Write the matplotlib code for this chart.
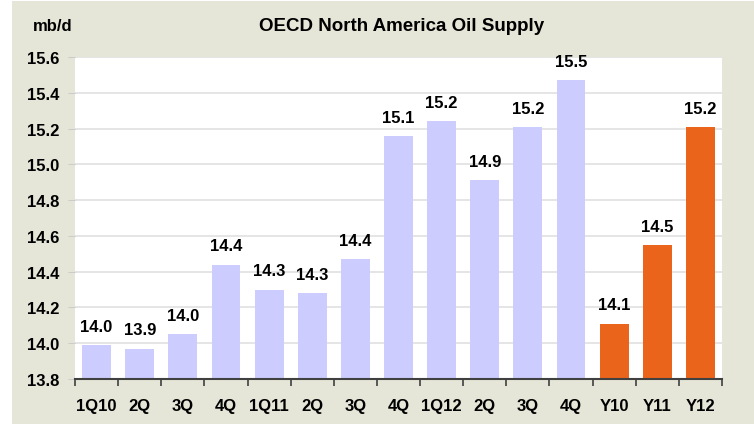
"""OECD North America oil supply bar chart."""
import matplotlib.pyplot as plt
import numpy as np
from matplotlib.patches import Rectangle

plt.rcParams["font.family"] = ["Liberation Sans", "DejaVu Sans"]

categories = ["1Q10", "2Q", "3Q", "4Q", "1Q11", "2Q", "3Q", "4Q",
              "1Q12", "2Q", "3Q", "4Q", "Y10", "Y11", "Y12"]
values = [13.99, 13.97, 14.05, 14.44, 14.30, 14.28, 14.47, 15.16,
          15.24, 14.91, 15.21, 15.47, 14.11, 14.55, 15.21]
labels = ["14.0", "13.9", "14.0", "14.4", "14.3", "14.3", "14.4", "15.1",
          "15.2", "14.9", "15.2", "15.5", "14.1", "14.5", "15.2"]
is_annual = [False] * 12 + [True] * 3

QUARTER_COLOR = "#CCCCFF"
ANNUAL_COLOR = "#EB641B"
BG_COLOR = "#E6E6D8"

fig = plt.figure(figsize=(7.54, 4.27), dpi=100, facecolor="white")
fig.patches.append(Rectangle((12 / 754, 2 / 427), 1 - 12 / 754, 423 / 427,
                             transform=fig.transFigure, facecolor=BG_COLOR,
                             edgecolor="none", zorder=-10))

ax = fig.add_axes([75 / 754, 1 - 380 / 427, 647 / 754, 322 / 427])
ax.set_facecolor("white")

x = np.arange(len(categories))
colors = [ANNUAL_COLOR if a else QUARTER_COLOR for a in is_annual]
bars = ax.bar(x, np.array(values) - 13.8, bottom=13.8, width=0.67,
              color=colors, zorder=2)

for xi, v, lab in zip(x, values, labels):
    ax.annotate(lab, (xi, v), xytext=(0, 8), textcoords="offset points",
                ha="center", va="bottom", fontsize=12, fontweight="bold")

ax.set_xlim(-0.5, len(categories) - 0.5)
ax.set_ylim(13.8, 15.6)
ax.set_yticks(np.arange(13.8, 15.61, 0.2))
ax.set_yticklabels([f"{t:.1f}" for t in np.arange(13.8, 15.61, 0.2)],
                   fontsize=12, fontweight="bold")
ax.grid(axis="y", color="#E0E0E0", linewidth=1.2, zorder=0)

ax.set_xticks(x)
ax.set_xticklabels(categories, fontsize=12, fontweight="bold")
ax.set_xticks(np.arange(-0.5, len(categories), 1), minor=True)
ax.tick_params(axis="x", which="major", length=0, pad=14)
ax.tick_params(axis="x", which="minor", length=5, color="#404040", width=1.2)
ax.tick_params(axis="y", length=5, color="#CCCCCC", pad=6)

for side in ["top", "right", "left"]:
    ax.spines[side].set_visible(False)
ax.spines["bottom"].set_color("#404040")
ax.spines["bottom"].set_linewidth(1.5)
ax.spines["bottom"].set_zorder(3)

fig.text(0.532, 0.938, "OECD North America Oil Supply", ha="center",
         va="center", fontsize=13.5, fontweight="bold")
fig.text(33 / 754, 0.937, "mb/d", ha="left", va="center",
         fontsize=12, fontweight="bold")

fig.savefig("out.png", dpi=100, facecolor=fig.get_facecolor())
